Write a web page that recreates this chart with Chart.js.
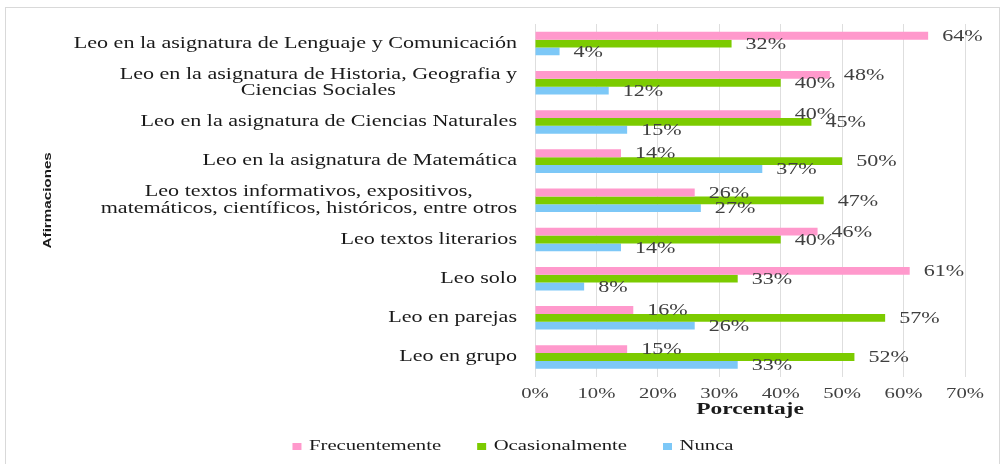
<!DOCTYPE html>
<html>
<head>
<meta charset="utf-8">
<script src="https://cdn.jsdelivr.net/npm/chart.js@4"></script>
<style>
  html, body { margin: 0; padding: 0; background: #fff; }
  #frame { position: absolute; left: 5px; top: 7px; width: 995px; height: 470px; border: 1px solid #d9d9d9; box-sizing: border-box; }
  #wrap { position: absolute; left: 0; top: 0; width: 1007px; height: 464px; }
</style>
</head>
<body>
<div id="frame"></div>
<div id="wrap"><canvas id="myChart"></canvas></div>
<script>
var categories = [
  "Leo en la asignatura de Lenguaje y Comunicación",
  ["Leo en la asignatura de Historia, Geografia y", "Ciencias Sociales"],
  "Leo en la asignatura de Ciencias Naturales",
  "Leo en la asignatura de Matemática",
  ["Leo textos informativos, expositivos,", "matemáticos, científicos, históricos, entre otros"],
  "Leo textos literarios",
  "Leo solo",
  "Leo en parejas",
  "Leo en grupo"
];
var frecuentemente = [64, 48, 40, 14, 26, 46, 61, 16, 15];
var ocasionalmente = [32, 40, 45, 50, 47, 40, 33, 57, 52];
var nunca = [4, 12, 15, 37, 27, 14, 8, 26, 33];
var xTicks = [0, 10, 20, 30, 40, 50, 60, 70];

// the original picture is stretched sideways, so all text is widened the same way
var STRETCH = 1.38;
var canvas = document.getElementById("myChart");
var ctx = canvas.getContext("2d");
var fill = ctx.fillText.bind(ctx);
var measure = ctx.measureText.bind(ctx);
ctx.fillText = function (text, x, y) {
  ctx.save();
  ctx.translate(x, y);
  ctx.scale(STRETCH, 1);
  fill(text, 0, 0);
  ctx.restore();
};
ctx.measureText = function (text) {
  var m = measure(text);
  return {
    width: m.width * STRETCH,
    actualBoundingBoxAscent: m.actualBoundingBoxAscent,
    actualBoundingBoxDescent: m.actualBoundingBoxDescent,
    actualBoundingBoxLeft: m.actualBoundingBoxLeft * STRETCH,
    actualBoundingBoxRight: m.actualBoundingBoxRight * STRETCH
  };
};

Chart.defaults.font.family = '"Liberation Serif", "Times New Roman", serif';
Chart.defaults.color = "#1a1a1a";

var barLabels = {
  id: "barLabels",
  afterDatasetsDraw: function (chart) {
    var c = chart.ctx;
    c.save();
    c.font = '16px "Liberation Serif"';
    c.fillStyle = "#404040";
    c.textAlign = "left";
    c.textBaseline = "middle";
    chart.data.datasets.forEach(function (ds, i) {
      chart.getDatasetMeta(i).data.forEach(function (bar, j) {
        c.fillText(ds.data[j] + "%", bar.x + 14, bar.y + 1);
      });
    });
    c.restore();
  }
};

new Chart(canvas, {
  type: "bar",
  data: {
    labels: categories,
    datasets: [
      { label: "Frecuentemente", data: frecuentemente, backgroundColor: "#ff99cc" },
      { label: "Ocasionalmente", data: ocasionalmente, backgroundColor: "#7ccb00" },
      { label: "Nunca", data: nunca, backgroundColor: "#7dc8f7" }
    ]
  },
  plugins: [barLabels],
  options: {
    indexAxis: "y",
    responsive: true,
    maintainAspectRatio: false,
    animation: false,
    categoryPercentage: 0.6,
    barPercentage: 1,
    layout: { padding: { top: 24, right: 42, left: 61, bottom: 0 } },
    plugins: {
      tooltip: { enabled: false },
      legend: {
        position: "bottom",
        labels: {
          boxWidth: 9,
          boxHeight: 7,
          padding: 36,
          color: "#1a1a1a",
          font: { size: 15 }
        }
      }
    },
    scales: {
      x: {
        min: 0,
        max: 70,
        afterBuildTicks: function (scale) {
          scale.ticks = xTicks.map(function (v) { return { value: v }; });
        },
        grid: { color: "#dedede", drawTicks: false },
        border: { display: false },
        ticks: {
          padding: 8,
          color: "#404040",
          font: { size: 15 },
          callback: function (v) { return v + "%"; }
        },
        title: {
          display: true,
          text: "Porcentaje",
          color: "#1a1a1a",
          font: { size: 17, weight: "bold" },
          padding: { top: -11, bottom: -17 }
        }
      },
      y: {
        afterFit: function (scale) { scale.width = 474; },
        afterUpdate: function (scale) {
          if (scale._centered) return;
          scale._centered = true;
          var compute = scale._computeLabelItems.bind(scale);
          // two-line labels are centred on their widest line, as in the original
          scale._computeLabelItems = function (area) {
            var items = compute(area);
            items.forEach(function (it) {
              if (Array.isArray(it.label)) {
                ctx.save();
                ctx.font = it.font.string;
                var w = Math.max.apply(null, it.label.map(function (l) { return ctx.measureText(l).width; }));
                ctx.restore();
                it.options.textAlign = "center";
                it.options.translation[0] -= w / 2;
              }
            });
            return items;
          };
        },
        grid: { display: false },
        border: { display: false },
        ticks: {
          padding: 10,
          color: "#1a1a1a",
          font: { size: 16, lineHeight: 1.05 }
        },
        title: {
          display: true,
          text: "Afirmaciones",
          color: "#1a1a1a",
          font: { family: '"Liberation Sans", Arial, sans-serif', size: 11, weight: "bold" },
          padding: { top: -20, bottom: 0 }
        }
      }
    }
  }
});
</script>
</body>
</html>
